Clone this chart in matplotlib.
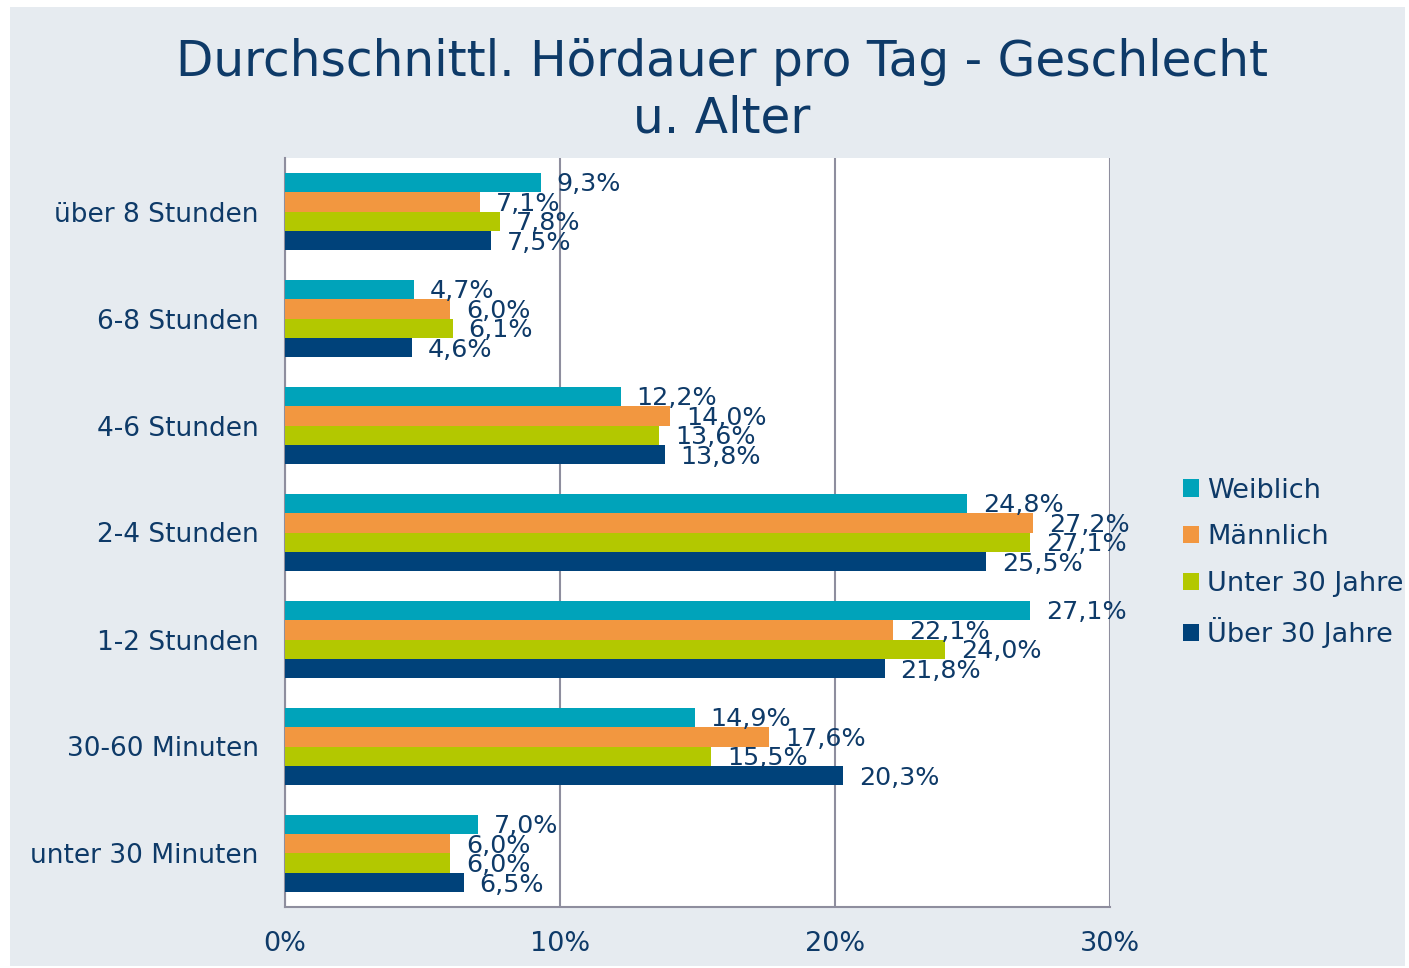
import matplotlib.pyplot as plt
import numpy as np
from matplotlib.patches import Rectangle

# data ---------------------------------------------
categories = ['über 8 Stunden', '6-8 Stunden', '4-6 Stunden', '2-4 Stunden',
              '1-2 Stunden', '30-60 Minuten', 'unter 30 Minuten']
series = ['Weiblich', 'Männlich', 'Unter 30 Jahre', 'Über 30 Jahre']
weiblich = [9.3, 4.7, 12.2, 24.8, 27.1, 14.9, 7.0]
maennlich = [7.1, 6.0, 14.0, 27.2, 22.1, 17.6, 6.0]
unter30 = [7.8, 6.1, 13.6, 27.1, 24.0, 15.5, 6.0]
ueber30 = [7.5, 4.6, 13.8, 25.5, 21.8, 20.3, 6.5]
xticks = [0, 10, 20, 30]

colors = ['#00A3BA', '#F29740', '#B3C800', '#00427A']
txt = '#0E3A68'
bg = '#E6EBF0'

plt.rcParams['font.family'] = 'DejaVu Sans'

fig = plt.figure(figsize=(14.09, 9.68), dpi=100, facecolor='white')
fig.patches.append(Rectangle((10/1409, 2/968), 1395/1409, 959/968,
                             transform=fig.transFigure, facecolor=bg,
                             edgecolor='none', zorder=-10))

ax = fig.add_axes([285/1409, 1-907/968, 825/1409, 749/968])
ax.set_facecolor('white')

y = np.arange(len(categories))
h = 0.182
vals = [weiblich, maennlich, unter30, ueber30]
for i, (name, v, c) in enumerate(zip(series, vals, colors)):
    pos = y - 1.5*h + i*h
    ax.barh(pos, v, height=h, color=c, label=name, zorder=3)
    for p, val in zip(pos, v):
        ax.annotate(f'{val:.1f}'.replace('.', ',') + '%', (val, p),
                    xytext=(11.5, -1.5), textcoords='offset points',
                    ha='left', va='center', fontsize=18.3, color=txt, zorder=4)

ax.set_ylim(len(categories) - 0.5, -0.5)
ax.set_xlim(0, 30)
ax.set_yticks(y)
ax.set_yticklabels(categories, fontsize=19, color=txt)
ax.set_xticks(xticks)
ax.set_xticklabels([f'{t}%' for t in xticks], fontsize=19.5, color=txt)
ax.tick_params(axis='y', length=0, pad=19)
ax.tick_params(axis='x', length=0, pad=17)
ax.grid(axis='x', color='#8E8E9E', linewidth=1.5, zorder=1)
for s in ['top', 'right']:
    ax.spines[s].set_visible(False)
for s in ['left', 'bottom']:
    ax.spines[s].set_color('#8E8E9E')
    ax.spines[s].set_linewidth(1.5)

fig.text(722/1409, 1-90/968, 'Durchschnittl. Hördauer pro Tag - Geschlecht\nu. Alter',
         ha='center', va='center', fontsize=35, color=txt, linespacing=1.22)

fig.legend(loc='center left', bbox_to_anchor=(1183/1409, 1-563/968),
           frameon=False, fontsize=19.5, labelcolor=txt, handlelength=0.6,
           handleheight=0.6, handletextpad=0.3, labelspacing=0.76,
           borderpad=0, borderaxespad=0)

fig.savefig('out.png', dpi=100, facecolor=fig.get_facecolor())
